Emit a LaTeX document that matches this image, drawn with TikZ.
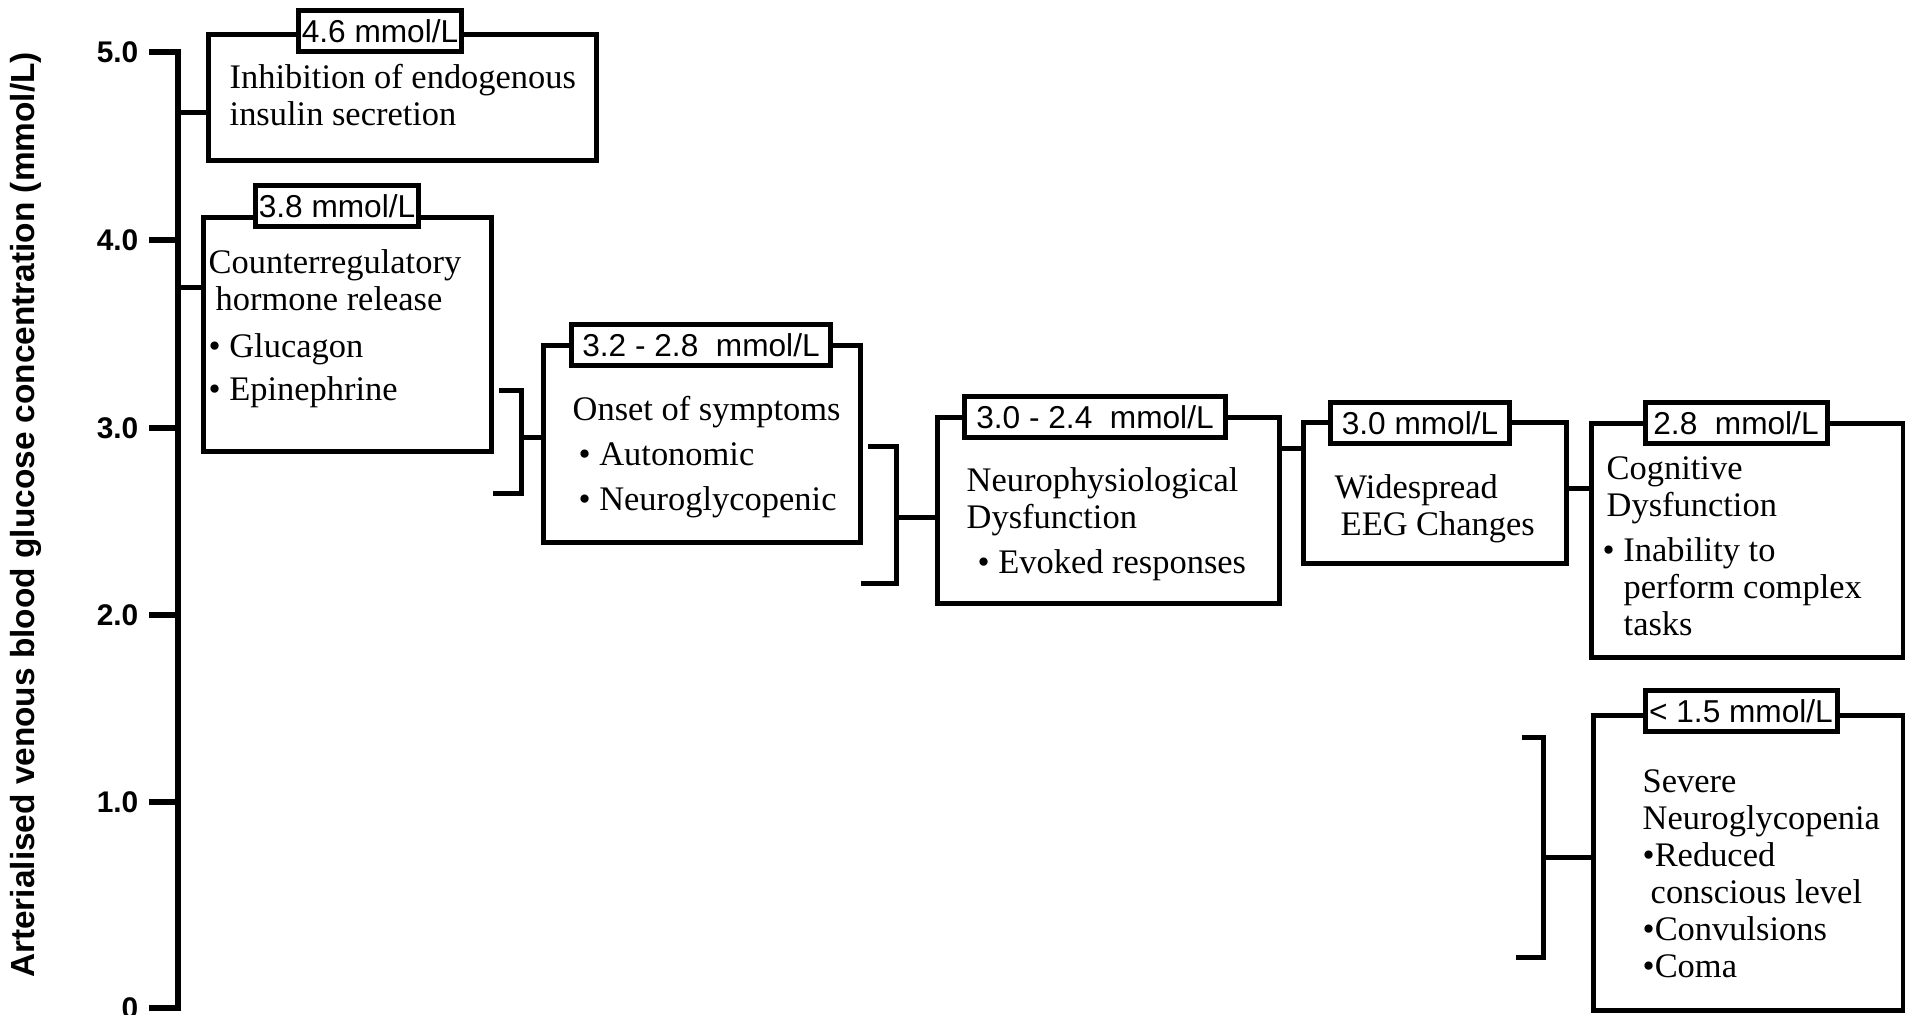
\documentclass[tikz,border=0pt]{standalone}
\usepackage{fontspec}
\setmainfont{Liberation Serif}
\setsansfont{Liberation Sans}
\usetikzlibrary{positioning}

\begin{document}
\begin{tikzpicture}[x=0.1mm, y=-0.1mm,
  evbox/.style={draw, line width=0.5mm, anchor=north west, inner sep=0pt, outer sep=0pt},
  lvl/.style={draw, line width=0.5mm, fill=white, font=\sffamily\fontsize{9}{10}\selectfont,
    inner xsep=0.3mm, inner ysep=0pt, minimum height=4.1mm},
  desc/.style={anchor=base west, align=left, inner sep=0pt, font=\fontsize{9.8}{10.5}\selectfont},
  link/.style={line width=0.5mm},
  axisline/.style={line width=0.6mm, line cap=rect},
  tck/.style={font=\sffamily\bfseries\fontsize{8.5}{9}\selectfont, anchor=east, inner sep=0pt}]
\useasboundingbox (0,0) rectangle (1905,1014);
\node[font=\sffamily\bfseries\fontsize{9.5}{10}\selectfont, rotate=90] (ttl) at (26,515)
  {Arterialised venous blood glucose concentration (mmol/L)};
\foreach \v/\y [count=\i] in {5.0/52,4.0/240,3.0/428,2.0/615,1.0/802,0/1008}{
  \coordinate (tk\i) at (178,\y);
  \draw[axisline] (152,\y) -- (tk\i);
  \node[tck] (tl\i) at (139,\y) {\v};
}
\draw[axisline] (tk1) -- (tk6);
\node[evbox, minimum width=38.9mm, minimum height=12.6mm] (inh) at (208,34) {};
\node[evbox, minimum width=28.9mm, minimum height=23.4mm] (crr) at (203,217) {};
\node[evbox, minimum width=31.7mm, minimum height=19.7mm] (ons) at (543,345) {};
\node[evbox, minimum width=34.2mm, minimum height=18.6mm] (neu) at (937,417) {};
\node[evbox, minimum width=26.3mm, minimum height=14.1mm] (eeg) at (1303,422) {};
\node[evbox, minimum width=31.2mm, minimum height=23.4mm] (cog) at (1591,423) {};
\node[evbox, minimum width=31.0mm, minimum height=29.5mm] (sev) at (1593,715) {};
\node[lvl, minimum width=16.2mm] (inhl) at (380,31) {4.6 mmol/L};
\node[lvl, minimum width=16.0mm] (crrl) at (337,206) {3.8 mmol/L};
\node[lvl, minimum width=25.9mm] (onsl) at (701,345) {3.2 - 2.8\ \ mmol/L};
\node[lvl, minimum width=26.1mm] (neul) at (1095,417) {3.0 - 2.4\ \ mmol/L};
\node[lvl, minimum width=17.9mm] (eegl) at (1420,423) {3.0 mmol/L};
\node[lvl, minimum width=18.2mm] (cogl) at (1736,423) {2.8\ \ mmol/L};
\node[lvl, minimum width=19.2mm] (sevl) at (1741,711) {< 1.5 mmol/L};
% texts, placed by the baseline of their last line
\node[desc] (inht) at (229,125) {Inhibition of endogenous\\insulin secretion};
\node[desc] (crrt) at (208,400) {Counterregulatory\\\hspace{0.7mm}hormone release\\[1.0mm]%
  • Glucagon\\[0.6mm]• Epinephrine};
\node[desc] (onst) at (572,510) {Onset of symptoms\\[0.8mm]\hspace{0.6mm}• Autonomic\\[0.8mm]%
  \hspace{0.6mm}• Neuroglycopenic};
\node[desc] (neut) at (966,573) {Neurophysiological\\Dysfunction\\[0.8mm]\hspace{1.1mm}• Evoked responses};
\node[desc] (eegt) at (1334,535) {Widespread\\\hspace{0.6mm}EEG Changes};
\node[desc] (cogt) at (1602,635) {\hspace{0.4mm}Cognitive\\\hspace{0.4mm}Dysfunction\\[0.8mm]%
  • Inability to\\\hspace{2.1mm}perform complex\\\hspace{2.1mm}tasks};
\node[desc] (sevt) at (1642,977) {Severe\\Neuroglycopenia\\•Reduced\\\hspace{0.8mm}conscious level\\%
  •Convulsions\\•Coma};
% axis to boxes
\coordinate (a1) at (178,112);
\coordinate (a2) at (178,287);
\draw[link] (a1) -- (a1 -| inh.west);
\draw[link] (a2) -- (a2 -| crr.west);
% brackets
\coordinate (b1t) at (499,390); \coordinate (b1m) at (521,437); \coordinate (b1b) at (493,493);
\draw[link] (b1t) -| (b1m) |- (b1b);
\draw[link] (b1m) -- (b1m -| ons.west);
\coordinate (b2t) at (868,446); \coordinate (b2m) at (896,517); \coordinate (b2b) at (861,583);
\draw[link] (b2t) -| (b2m) |- (b2b);
\draw[link] (b2m) -- (b2m -| neu.west);
\coordinate (b3t) at (1522,737); \coordinate (b3m) at (1543,857); \coordinate (b3b) at (1516,957);
\draw[link] (b3t) -| (b3m) |- (b3b);
\draw[link] (b3m) -- (b3m -| sev.west);
\coordinate (c45) at (0,448);
\draw[link] (c45 -| neu.east) -- (c45 -| eeg.west);
\coordinate (c56) at (0,488);
\draw[link] (c56 -| eeg.east) -- (c56 -| cog.west);
\end{tikzpicture}
\end{document}
